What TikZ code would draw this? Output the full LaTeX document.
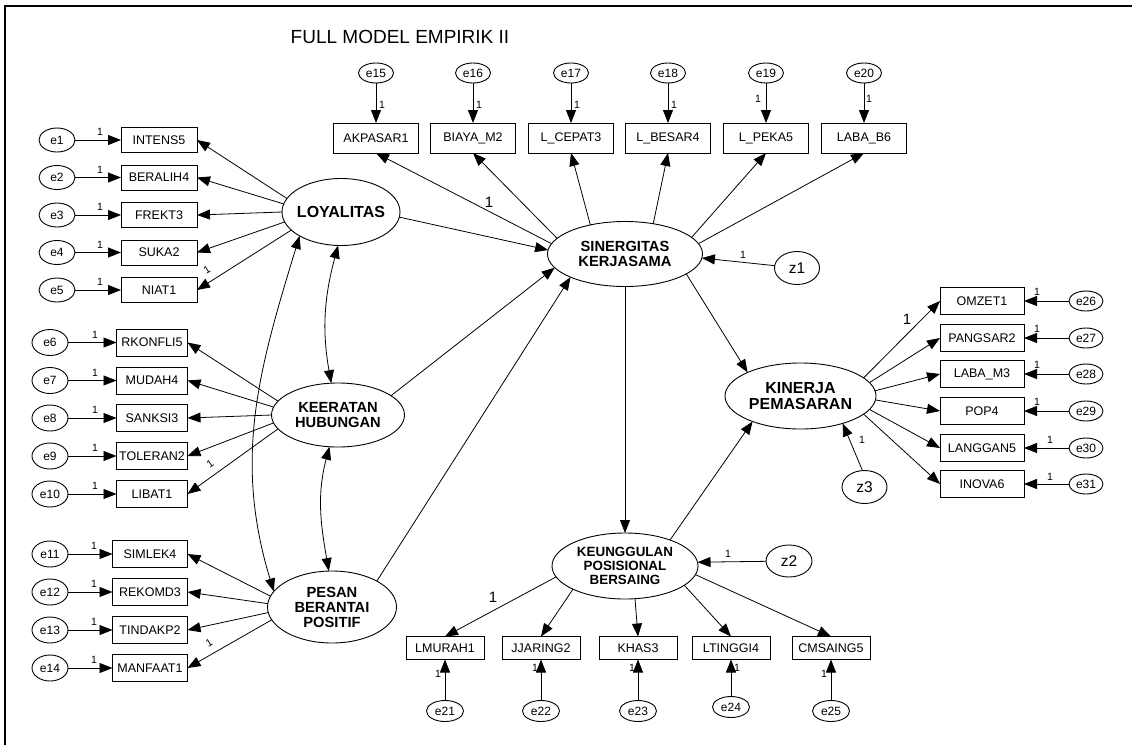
\documentclass[tikz,border=0pt]{standalone}
\usepackage{fontspec}
\setmainfont{Liberation Sans}
\usetikzlibrary{arrows.meta,shapes.geometric}

\begin{document}
\begin{tikzpicture}[x=1pt,y=1pt,
  every node/.style={inner sep=0pt, outer sep=0pt},
  obs/.style={draw, line width=0.9pt, rectangle, font=\fontsize{12.5}{14}\selectfont},
  err/.style={draw, line width=0.9pt, ellipse, font=\fontsize{12}{14}\selectfont},
  lerr/.style={err, minimum width=36pt, minimum height=26pt},
  terr/.style={err, minimum width=35pt, minimum height=20pt},
  derr/.style={err, minimum width=37pt, minimum height=21pt},
  dist/.style={draw, line width=0.9pt, ellipse, font=\fontsize{15.5}{16}\selectfont, minimum width=46pt, minimum height=32pt},
  lat/.style={draw, line width=0.9pt, ellipse},
  latlab/.style={font=\fontsize{14.7}{14.5}\selectfont\bfseries, align=center},
  arr/.style={line width=0.8pt, -{Triangle[length=13pt,width=10pt]}},
  twoway/.style={line width=0.8pt, {Triangle[length=13pt,width=10pt]}-{Triangle[length=13pt,width=10pt]}},
  one/.style={font=\fontsize{10.5}{10.5}\selectfont},
  bigone/.style={font=\fontsize{15}{15}\selectfont}
]
\useasboundingbox (0,0) rectangle (1132,-745);

% frame
\draw[line width=2pt] (5,-745) -- (5,-6) -- (1132,-6);

\node[font=\fontsize{19}{22}\selectfont] (title) at (400,-37) {FULL MODEL EMPIRIK II};

% latent variables
\node[lat, minimum width=118pt, minimum height=67pt,
  label={[latlab, font=\fontsize{16}{16}\selectfont\bfseries]center:LOYALITAS}] (loy) at (341,-212) {};
\node[lat, minimum width=133pt, minimum height=64pt,
  label={[latlab]center:{KEERATAN\\HUBUNGAN}}] (keer) at (338,-415) {};
\node[lat, minimum width=129pt, minimum height=72pt,
  label={[latlab, font=\fontsize{14.7}{15}\selectfont\bfseries]center:{PESAN\\BERANTAI\\POSITIF}}] (pes) at (332,-607) {};
\node[lat, minimum width=155pt, minimum height=65pt,
  label={[latlab]center:{SINERGITAS\\KERJASAMA}}] (sin) at (625,-254) {};
\node[lat, minimum width=151pt, minimum height=66pt,
  label={[latlab, font=\fontsize{16}{16}\selectfont\bfseries]center:{KINERJA\\PEMASARAN}}] (kin) at (800.5,-396) {};
\node[lat, minimum width=146pt, minimum height=66pt,
  label={[latlab, font=\fontsize{13.4}{14}\selectfont\bfseries]center:{KEUNGGULAN\\POSISIONAL\\BERSAING}}] (keu) at (625,-566) {};

% disturbances
\node[dist, minimum width=45pt, minimum height=33pt] (z1) at (797,-268) {z1};
\node[dist] (z2) at (789,-561) {z2};
\node[dist, minimum width=45pt, minimum height=33pt] (z3) at (864.5,-487) {z3};

% LOYALITAS indicators
\foreach \n/\t/\e/\y in {intens/INTENS5/1/140, beralih/BERALIH4/2/177.5, frekt/FREKT3/3/215,
                         suka/SUKA2/4/252.5, niat/NIAT1/5/290}{
  \node[obs, minimum width=76pt, minimum height=25pt] (\n) at (159,-\y) {\t};
  \node[lerr, minimum height=24pt] (e\e) at (57,-\y) {e\e};
  \draw[arr] (e\e) -- (\n);
  \node[one] at (100,-\y+8) {1};
}
\foreach \n/\a in {intens/166, beralih/172, frekt/180, suka/190, niat/200}
  \draw[arr] (loy.\a) -- (\n.east);
\node[one, rotate=32] at (207,-270) {1};

% KEERATAN HUBUNGAN indicators
\foreach \n/\t/\e/\y in {rkonfli/RKONFLI5/6/342.5, mudah/MUDAH4/7/380.5, sanksi/SANKSI3/8/418,
                         toleran/TOLERAN2/9/456, libat/LIBAT1/10/494}{
  \node[obs, minimum width=71pt, minimum height=27pt] (\n) at (152,-\y) {\t};
  \node[lerr] (e\e) at (50,-\y) {e\e};
  \draw[arr] (e\e) -- (\n);
  \node[one] at (95,-\y+8) {1};
}
\foreach \n/\a in {rkonfli/167, mudah/173, sanksi/180, toleran/187, libat/193}
  \draw[arr] (keer.\a) -- (\n.east);
\node[one, rotate=36] at (210,-464) {1};

% PESAN BERANTAI POSITIF indicators
\foreach \n/\t/\e/\y in {simlek/SIMLEK4/11/554, rekomd/REKOMD3/12/592,
                         tindakp/TINDAKP2/13/630, manfaat/MANFAAT1/14/668}{
  \node[obs, minimum width=75pt, minimum height=27pt] (\n) at (150,-\y) {\t};
  \node[lerr] (e\e) at (50,-\y) {e\e};
  \draw[arr] (e\e) -- (\n);
  \node[one] at (94,-\y+8) {1};
}
\foreach \n/\a in {simlek/170, rekomd/177, tindakp/185, manfaat/192}
  \draw[arr] (pes.\a) -- (\n.east);
\node[one, rotate=30] at (209,-643) {1};

% SINERGITAS KERJASAMA indicators
\foreach \n/\t/\e/\x in {akpasar/AKPASAR1/15/376, biaya/BIAYA\_M2/16/473, lcepat/L\_CEPAT3/17/571,
                         lbesar/L\_BESAR4/18/668, lpeka/L\_PEKA5/19/766, labab/LABA\_B6/20/864}{
  \node[obs, minimum width=85pt, minimum height=30pt] (\n) at (\x,-138) {\t};
  \node[terr] (e\e) at (\x,-73) {e\e};
  \draw[arr] (e\e) -- (\n);
}
\node[one] at (382,-105) {1};
\node[one] at (479,-105) {1};
\node[one] at (577,-105) {1};
\node[one] at (674,-105) {1};
\node[one] at (758,-99) {1};
\node[one] at (869,-99) {1};
\foreach \n/\a in {akpasar/172, biaya/167, lcepat/140, lbesar/47, lpeka/14, labab/8.5}
  \draw[arr] (sin.\a) -- (\n.south);
\node[bigone] at (489,-202) {1};

% KINERJA PEMASARAN indicators
\foreach \n/\t/\e/\y in {omzet/OMZET1/26/301, pangsar/PANGSAR2/27/338, labam/LABA\_M3/28/374,
                         pop/POP4/29/411, langgan/LANGGAN5/30/448, inova/INOVA6/31/484}{
  \node[obs, minimum width=84pt, minimum height=27pt] (\n) at (982,-\y) {\t};
  \node[err, minimum width=34pt, minimum height=20pt] (e\e) at (1086,-\y) {e\e};
  \draw[arr] (e\e) -- (\n);
}
\node[one] at (1037,-292) {1};
\node[one] at (1037,-329) {1};
\node[one] at (1037,-365) {1};
\node[one] at (1037,-402) {1};
\node[one] at (1050,-440) {1};
\node[one] at (1050,-477) {1};
\foreach \n/\a in {omzet/16, pangsar/11, labam/4.5, pop/-3, langgan/-11, inova/-16}
  \draw[arr] (kin.\a) -- (\n.west);
\node[bigone] at (907,-319) {1};

% KEUNGGULAN POSISIONAL BERSAING indicators
\foreach \n/\t/\e/\x/\ey in {lmurah/LMURAH1/21/445/711, jjaring/JJARING2/22/541/711, khas/KHAS3/23/638/711,
                             ltinggi/LTINGGI4/24/731/707, cmsaing/CMSAING5/25/831/711}{
  \node[obs, minimum width=78pt, minimum height=23pt] (\n) at (\x,-648) {\t};
  \node[derr] (e\e) at (\x,-\ey) {e\e};
  \draw[arr] (e\e) -- (\n);
}
\node[one] at (438,-674) {1};
\node[one] at (535,-668) {1};
\node[one] at (632,-668) {1};
\node[one] at (737,-668) {1};
\node[one] at (824,-674) {1};
\foreach \n/\a in {lmurah/189, jjaring/204, khas/-73, ltinggi/-18, cmsaing/-7}
  \draw[arr] (keu.\a) -- (\n.north);
\node[bigone] at (493,-597) {1};

% structural paths
\draw[arr] (loy.-5) -- (sin.177);
\draw[arr] (keer.20) -- (sin.191);
\draw[arr] (pes.30) -- (sin.203);
\draw[arr] (sin.-18) -- (kin.156);
\draw[arr] (sin.south) -- (keu.north);
\draw[arr] (keu.30) -- (kin.208);

% disturbance paths
\draw[arr] (z1) -- (sin.-3);
\node[one] at (743,-255) {1};
\draw[arr] (z2) -- (keu.3);
\node[one] at (728,-554) {1};
\draw[arr] (z3.97) -- (kin.-33);
\node[one] at (862,-440) {1};

% covariances among the exogenous constructs
\draw[twoway] (loy.265) to[out=255, in=100] (keer.102);
\draw[twoway] (keer.255) to[out=255, in=100] (pes.95);
\draw[twoway] (loy.210) to[out=253, in=107] (pes.165);
\end{tikzpicture}
\end{document}
